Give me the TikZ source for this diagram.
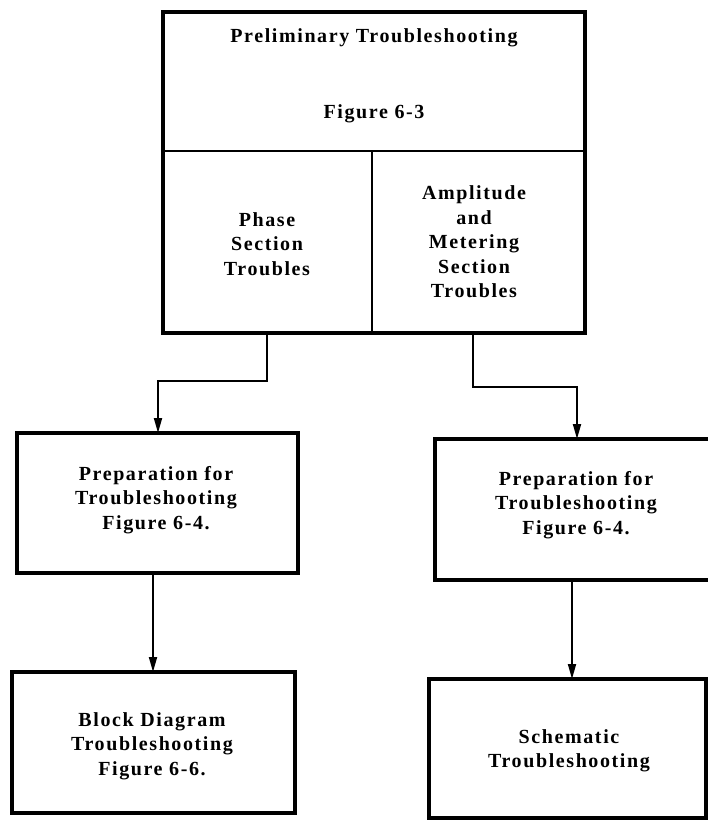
\documentclass[tikz,border=0pt]{standalone}
\usepackage{fontspec}
\setmainfont{Liberation Serif}[LetterSpace=8]
\usetikzlibrary{arrows.meta}
\begin{document}
\begin{tikzpicture}[x=1pt,y=-1pt,
  box/.style={draw,line width=3.2pt},
  lbl/.style={font=\fontsize{20}{24.5}\selectfont\bfseries,align=center,inner sep=0pt},
  conn/.style={line width=1.8pt,-{Triangle[length=15pt,width=8pt]}}]
\useasboundingbox (0,0) rectangle (708,824);
% top box
\draw[box] (163,12) rectangle (585,333);
\draw[line width=2.2pt] (163,151) -- (585,151);
\draw[line width=2.2pt] (372,151) -- (372,333);
\node[lbl] (prelim) at (374,38) {Preliminary Troubleshooting};
\node[lbl] (fig63) at (374,114) {Figure 6-3};
\node[lbl] (phase) at (267,244) {Phase\\Section\\Troubles};
\node[lbl] (ampl) at (474,242) {Amplitude\\and\\Metering\\Section\\Troubles};
\coordinate (phs) at (267,333);
\coordinate (amps) at (473,333);
% middle boxes
\draw[box] (17,433) rectangle (298,573);
\node[lbl] (prepL) at (156,500) {Preparation for\\Troubleshooting\\Figure 6-4.};
\draw[box] (710,439) -- (435,439) -- (435,580) -- (710,580);
\node[lbl] (prepR) at (576,505) {Preparation for\\Troubleshooting\\Figure 6-4.};
\coordinate (pLt) at (158,433);
\coordinate (pRt) at (577,439);
\coordinate (pLb) at (153,573);
\coordinate (pRb) at (572,580);
% bottom boxes
\draw[box] (12,672) rectangle (295,813);
\node[lbl] (block) at (152,746) {Block Diagram\\Troubleshooting\\Figure 6-6.};
\draw[box] (429,679) rectangle (706,818);
\node[lbl] (schem) at (569,751) {Schematic\\Troubleshooting};
\coordinate (bLt) at (153,672);
\coordinate (bRt) at (572,679);
% connectors
\draw[conn] (phs) |- (210,381) -| (pLt);
\draw[conn] (amps) |- (520,387) -| (pRt);
\draw[conn] (pLb) -- (bLt);
\draw[conn] (pRb) -- (bRt);
\end{tikzpicture}
\end{document}
